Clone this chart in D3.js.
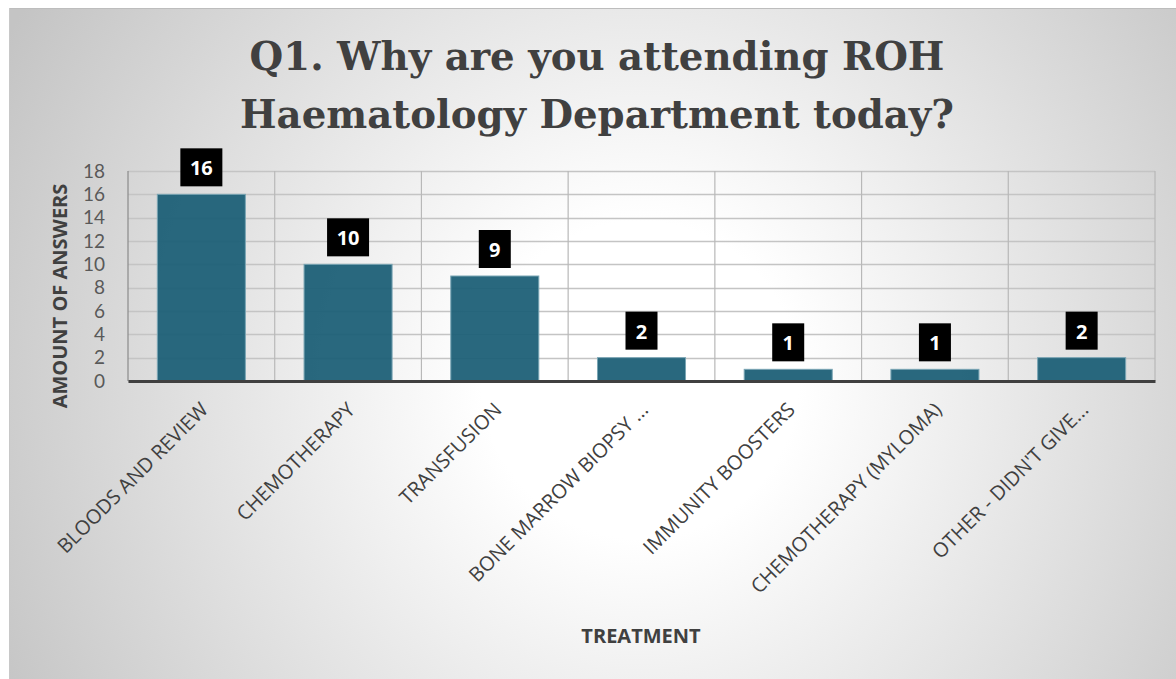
<!DOCTYPE html>
<html>
<head>
<meta charset="utf-8">
<script src="https://cdn.jsdelivr.net/npm/d3@7"></script>
<style>
  body { margin: 0; background: #fff; }
  svg { display: block; }
</style>
</head>
<body>
<div id="chart"></div>
<script>
// chart data
var categories = ["BLOODS AND REVIEW", "CHEMOTHERAPY", "TRANSFUSION", "BONE MARROW BIOPSY ...",
                  "IMMUNITY BOOSTERS", "CHEMOTHERAPY (MYLOMA)", "OTHER - DIDN'T GIVE..."];
var answers = [16, 10, 9, 2, 1, 1, 2];
var yTicks = [0, 2, 4, 6, 8, 10, 12, 14, 16, 18];
var titleLines = ["Q1. Why are you attending ROH", "Haematology Department today?"];

var W = 1176, H = 679;
var margin = {top: 171, right: 21, bottom: 298, left: 128};
var width = W - margin.left - margin.right,
    height = H - margin.top - margin.bottom;

var svg = d3.select("#chart").append("svg")
  .attr("width", W)
  .attr("height", H);

//background gradient
var defs = svg.append("defs");
var grad = defs.append("radialGradient")
  .attr("id", "bg")
  .attr("gradientUnits", "userSpaceOnUse")
  .attr("cx", 640).attr("cy", 380).attr("r", 720);
grad.append("stop").attr("offset", "0%").attr("stop-color", "#ffffff");
grad.append("stop").attr("offset", "22%").attr("stop-color", "#ffffff");
grad.append("stop").attr("offset", "100%").attr("stop-color", "#c4c4c4");

svg.append("rect")
  .attr("x", 9).attr("y", 8)
  .attr("width", W - 9).attr("height", H - 8)
  .style("fill", "url(#bg)");
svg.append("line")
  .attr("x1", 9).attr("x2", W).attr("y1", 8.5).attr("y2", 8.5)
  .style("stroke", "#bdbdbd");
svg.append("line")
  .attr("x1", 9.5).attr("x2", 9.5).attr("y1", 8).attr("y2", H)
  .style("stroke", "#c8c8c8");

//title - size it so the first line is about as wide as the original
var title = svg.append("text")
  .attr("x", 597).attr("y", 70)
  .attr("text-anchor", "middle")
  .style("font-family", "'DejaVu Serif', serif")
  .style("font-weight", "bold")
  .style("font-size", "40px")
  .style("fill", "#404040");
title.selectAll("tspan")
  .data(titleLines)
  .enter().append("tspan")
  .attr("x", 597)
  .attr("dy", function(d, i) { return i === 0 ? 0 : 58; })
  .text(function(d) { return d; });
var firstLen = title.select("tspan").node().getComputedTextLength();
var titleSize = Math.min(44, 40 * 695 / firstLen);
title.style("font-size", titleSize + "px");

var g = svg.append("g")
  .attr("transform", "translate(" + margin.left + "," + margin.top + ")");

var x = d3.scaleBand()
  .domain(categories)
  .range([0, width])
  .paddingInner(0.4)
  .paddingOuter(0.2);

var y = d3.scaleLinear()
  .domain([0, 18])
  .range([height, 0]);

//horizontal grid
g.append("g")
  .selectAll("line")
  .data(yTicks)
  .enter().append("line")
  .attr("x1", 0).attr("x2", width)
  .attr("y1", function(d) { return Math.round(y(d)) + 0.5; })
  .attr("y2", function(d) { return Math.round(y(d)) + 0.5; })
  .style("stroke", "#c4c4c4")
  .style("stroke-width", 1.5);

//vertical grid between categories
var step = x.step();
var x0 = x(categories[0]) - x.paddingOuter() * step;
var vgrid = d3.range(categories.length + 1);
g.append("g")
  .selectAll("line")
  .data(vgrid)
  .enter().append("line")
  .attr("x1", function(d) { return x0 + d * step; })
  .attr("x2", function(d) { return x0 + d * step; })
  .attr("y1", 0).attr("y2", height)
  .style("stroke", function(d) { return d === 0 ? "#8a8a8a" : "#b8b8b8"; })
  .style("stroke-width", 1.2);

//bars
g.append("g")
  .selectAll("rect")
  .data(answers)
  .enter().append("rect")
  .attr("x", function(d, i) { return x(categories[i]); })
  .attr("y", function(d) { return y(d); })
  .attr("width", x.bandwidth())
  .attr("height", function(d) { return height - y(d); })
  .style("fill", "#1d6077")
  .style("fill-opacity", 0.95)
  .style("stroke", "#7aa5b4")
  .style("stroke-width", 1);

//y axis ticks
var yAxis = g.append("g")
  .call(d3.axisLeft(y).tickValues(yTicks).tickSize(0).tickPadding(23));
yAxis.select(".domain").remove();
yAxis.selectAll("text")
  .style("font-family", "Lato, sans-serif")
  .style("font-size", "19px")
  .style("fill", "#595959");

//x axis
var xAxis = g.append("g")
  .attr("transform", "translate(0," + height + ")")
  .call(d3.axisBottom(x).tickSize(0).tickPadding(0));
xAxis.select(".domain")
  .style("stroke", "#404040")
  .style("stroke-width", 3);
xAxis.selectAll("text")
  .attr("text-anchor", "end")
  .attr("dy", 0)
  .attr("transform", "translate(8,30) rotate(-45)")
  .style("font-family", "'Open Sans', sans-serif")
  .style("font-size", "20px")
  .style("fill", "#404040");

//value labels
var lbl = g.append("g")
  .selectAll("g")
  .data(answers)
  .enter().append("g")
  .attr("transform", function(d, i) {
    return "translate(" + (x(categories[i]) + x.bandwidth() / 2) + "," + (y(d) - 8) + ")";
  });
lbl.append("rect")
  .attr("x", function(d) { return String(d).length > 1 ? -21 : -16; })
  .attr("y", -38)
  .attr("width", function(d) { return String(d).length > 1 ? 42 : 32; })
  .attr("height", 38)
  .style("fill", "#000");
lbl.append("text")
  .attr("y", -11)
  .attr("text-anchor", "middle")
  .style("font-family", "'Open Sans', sans-serif")
  .style("font-weight", "bold")
  .style("font-size", "20px")
  .style("fill", "#fff")
  .text(function(d) { return d; });

//axis titles
svg.append("text")
  .attr("transform", "translate(67," + (margin.top + height / 2 + 20) + ") rotate(-90)")
  .attr("text-anchor", "middle")
  .style("font-family", "'Open Sans', sans-serif")
  .style("font-weight", "bold")
  .style("font-size", "20px")
  .style("fill", "#404040")
  .text("AMOUNT OF ANSWERS");

svg.append("text")
  .attr("x", 641).attr("y", 643)
  .attr("text-anchor", "middle")
  .style("font-family", "'Open Sans', sans-serif")
  .style("font-weight", "bold")
  .style("font-size", "20px")
  .style("fill", "#404040")
  .text("TREATMENT");
</script>
</body>
</html>
